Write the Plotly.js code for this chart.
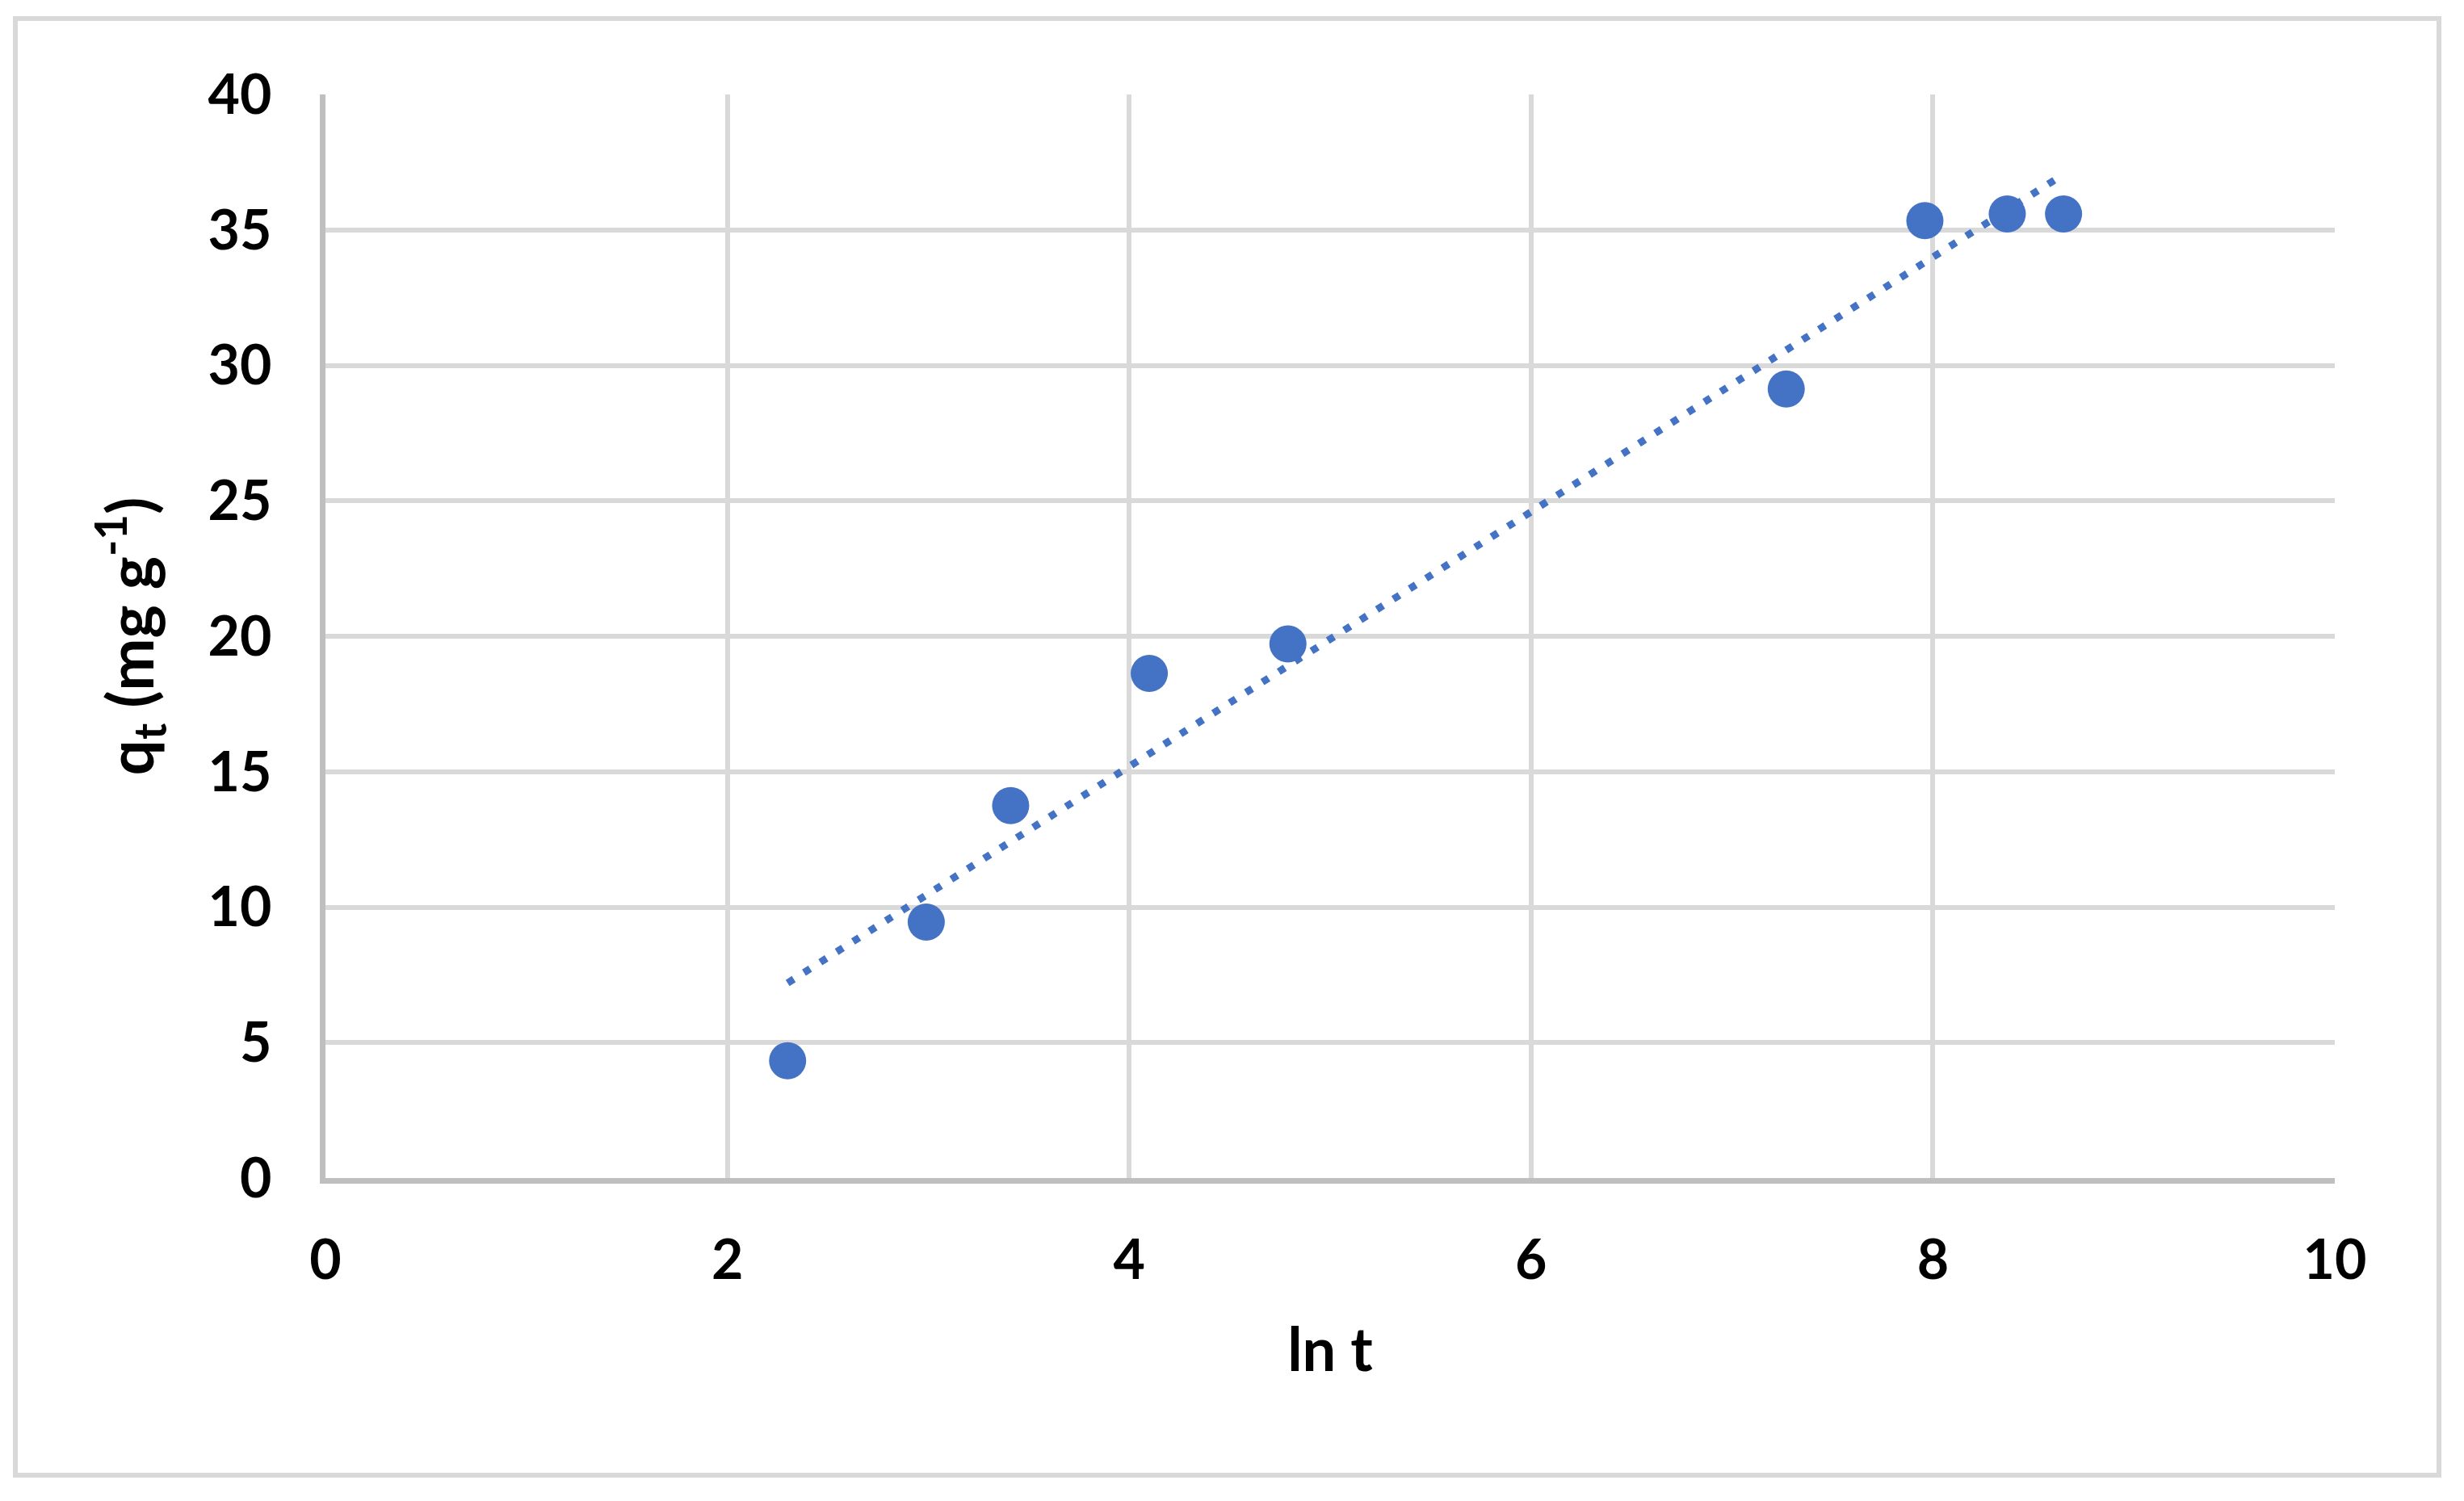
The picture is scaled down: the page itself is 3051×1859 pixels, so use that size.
<!DOCTYPE html>
<html>
<head>
<meta charset="utf-8">
<script src="https://cdn.plot.ly/plotly-3.0.1.min.js"></script>
<style>
  html, body { margin: 0; padding: 0; background: #fff; }
  #chart { width: 3051px; height: 1859px; }
</style>
</head>
<body>
<div id="chart"></div>
<script>
// ln t and q_t values
const lnT = [2.30, 2.99, 3.41, 4.10, 4.79, 7.27, 7.96, 8.37, 8.65];
const qt = [4.33, 9.45, 13.75, 18.63, 19.72, 29.13, 35.34, 35.59, 35.59];

// linear trendline ends
const trendX = [2.30, 8.65];
const trendY = [7.2, 37.05];

const blue = "#4472C4";
const grid = "#D9D9D9";
const axisGrey = "#BFBFBF";

const traces = [];

traces.push({
  x: lnT,
  y: qt,
  mode: "markers",
  type: "scatter",
  marker: { color: blue, size: 46 },
  showlegend: false
});

traces.push({
  x: trendX,
  y: trendY,
  mode: "lines",
  type: "scatter",
  line: { color: blue, width: 9, dash: "9px,15px" },
  showlegend: false
});

const tickFont = { family: "Lato", size: 68, color: "#000", weight: "bold" };

Plotly.newPlot("chart", traces, {
  width: 3051,
  height: 1859,
  margin: { l: 403, r: 160, t: 117, b: 400 },
  paper_bgcolor: "#fff",
  plot_bgcolor: "#fff",
  font: { family: "Lato", color: "#000" },
  xaxis: {
    range: [0, 10],
    dtick: 2,
    tick0: 0,
    showgrid: true,
    gridcolor: grid,
    gridwidth: 6,
    zeroline: false,
    showline: true,
    linecolor: axisGrey,
    linewidth: 7,
    ticks: "",
    ticklabelstandoff: 36,
    tickfont: tickFont,
    title: {
      text: "ln t",
      font: { family: "Lato", size: 74, color: "#000", weight: "bold" },
      standoff: 52
    }
  },
  yaxis: {
    range: [0, 40],
    dtick: 5,
    tick0: 0,
    showgrid: true,
    gridcolor: grid,
    gridwidth: 6,
    zeroline: false,
    showline: true,
    linecolor: axisGrey,
    linewidth: 7,
    ticks: "",
    ticklabelstandoff: 46,
    tickfont: tickFont,
    title: {
      text: "q<sub>t</sub> (mg g<sup>-1</sup>)",
      font: { family: "Lato", size: 78, color: "#000", weight: "bold" },
      standoff: 44
    }
  },
  shapes: [{
    type: "rect",
    xref: "paper",
    yref: "paper",
    x0: (19 - 403) / 2488,
    x1: (3020 - 403) / 2488,
    y0: (1459 - 1827) / 1342,
    y1: (1459 - 23) / 1342,
    line: { color: grid, width: 6 },
    fillcolor: "rgba(0,0,0,0)",
    layer: "below"
  }]
}, { displayModeBar: false, staticPlot: true });
</script>
</body>
</html>
